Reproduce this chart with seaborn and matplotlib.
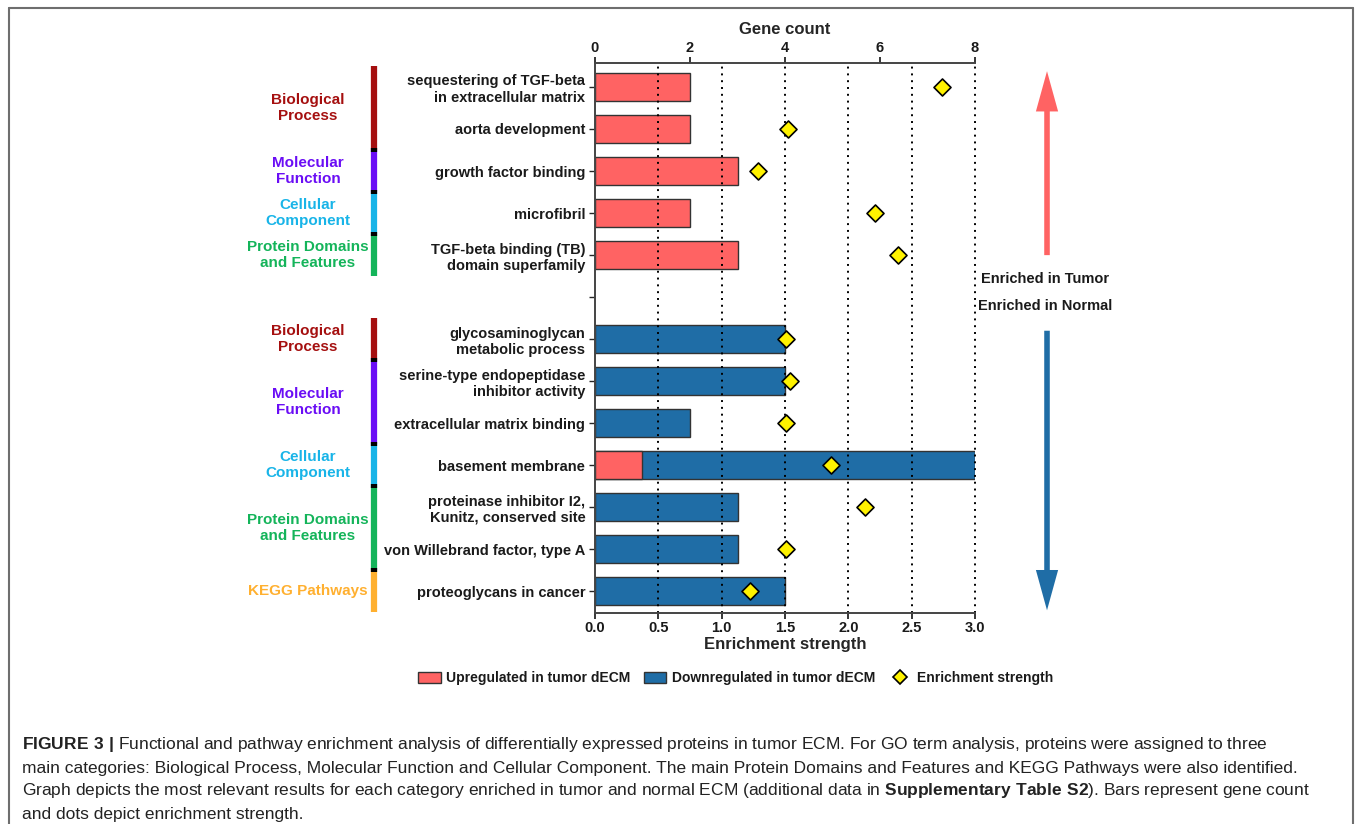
import numpy as np
import pandas as pd
import matplotlib
matplotlib.use("Agg")
import matplotlib.pyplot as plt
import seaborn as sns
from matplotlib.patches import Patch, FancyArrowPatch
from matplotlib.lines import Line2D
import matplotlib.transforms as mtransforms

# data
terms = [
    "sequestering of TGF-beta\nin extracellular matrix",
    "aorta development",
    "growth factor binding",
    "microfibril",
    "TGF-beta binding (TB)\ndomain superfamily",
    "",
    "glycosaminoglycan\nmetabolic process",
    "serine-type endopeptidase\ninhibitor activity",
    "extracellular matrix binding",
    "basement membrane",
    "proteinase inhibitor I2,\nKunitz, conserved site",
    "von Willebrand factor, type A",
    "proteoglycans in cancer",
]
up_genes = [2, 2, 3, 2, 3, 0, 0, 0, 0, 1, 0, 0, 0]
down_genes = [0, 0, 0, 0, 0, 0, 4, 4, 2, 8, 3, 3, 4]
strength = [2.74, 1.52, 1.29, 2.21, 2.39, np.nan, 1.51, 1.54, 1.51, 1.86, 2.13, 1.51, 1.22]

# category groups: (label, colour, first row, last row)
groups = [
    ("Biological\nProcess", "#A50F0F", 0, 1),
    ("Molecular\nFunction", "#6A0DF5", 2, 2),
    ("Cellular\nComponent", "#18B4E8", 3, 3),
    ("Protein Domains\nand Features", "#14B45A", 4, 4),
    ("Biological\nProcess", "#A50F0F", 6, 6),
    ("Molecular\nFunction", "#6A0DF5", 7, 8),
    ("Cellular\nComponent", "#18B4E8", 9, 9),
    ("Protein Domains\nand Features", "#14B45A", 10, 11),
    ("KEGG Pathways", "#FFB030", 12, 12),
]

RED = "#FF6363"
BLUE = "#1F6DA6"

sns.set_style("ticks")
plt.rcParams["font.family"] = ["Liberation Sans", "DejaVu Sans"]
plt.rcParams["mathtext.fontset"] = "custom"
plt.rcParams["mathtext.bf"] = "Liberation Sans:bold"
plt.rcParams["mathtext.rm"] = "Liberation Sans"

up = pd.DataFrame({"term": terms, "genes": up_genes})
up = up[up.genes > 0]
down = pd.DataFrame({"term": terms, "genes": down_genes})
down = down[down.genes > 0]

fig = plt.figure(figsize=(13.55, 8.24), dpi=100)
ax = fig.add_axes([0.4391, 0.2561, 0.2805, 0.6674])

sns.barplot(data=down, x="genes", y="term", order=terms, orient="h", color=BLUE,
            saturation=1, width=0.68, edgecolor="#333333", linewidth=1.0, ax=ax)
sns.barplot(data=up, x="genes", y="term", order=terms, orient="h", color=RED,
            saturation=1, width=0.68, edgecolor="#333333", linewidth=1.0, ax=ax)

# enrichment strength on a twin axis (bottom)
ax2 = ax.twiny()
ypos = np.arange(len(terms))
sns.scatterplot(x=strength, y=ypos, ax=ax2, marker="D", s=75, color="#FFF200",
                edgecolor="black", linewidth=1.2, zorder=5, legend=False)

# gene count axis on top
ax.set_xlim(0, 8)
ax.set_ylim(12.52, -0.57)
ax.xaxis.set_ticks_position("top")
ax.xaxis.set_label_position("top")
ax.set_xticks([0, 2, 4, 6, 8])
ax.set_xlabel("Gene count", fontsize=12, fontweight="bold", labelpad=5)
ax.set_ylabel("")
ax.tick_params(axis="x", labelsize=10.5, width=1.3, length=4, pad=2,
               top=True, labeltop=True, bottom=False, labelbottom=False)
ax.tick_params(axis="y", labelsize=10.5, width=1.0, length=4, pad=3)
for lab in ax.get_xticklabels() + ax.get_yticklabels():
    lab.set_fontweight("bold")
    lab.set_color("#1a1a1a")
for s in ["right", "bottom"]:
    ax.spines[s].set_visible(False)
for s in ["left", "top"]:
    ax.spines[s].set_linewidth(1.4)
    ax.spines[s].set_color("#444444")

ax2.set_xlim(0, 3)
ax2.set_ylim(12.52, -0.57)
ax2.xaxis.set_label_position("bottom")
ax2.set_xticks(np.arange(0, 3.01, 0.5))
ax2.set_xticklabels([f"{v:.1f}" for v in np.arange(0, 3.01, 0.5)])
ax2.set_xlabel("Enrichment strength", fontsize=12, fontweight="bold", labelpad=1)
ax2.tick_params(axis="x", labelsize=10.5, width=1.3, length=4, pad=2,
                bottom=True, labelbottom=True, top=False, labeltop=False)
for lab in ax2.get_xticklabels():
    lab.set_fontweight("bold")
    lab.set_color("#1a1a1a")
ax2.grid(axis="x", color="black", linestyle=(0, (1, 2.5)), linewidth=1.4)
for gl in ax2.xaxis.get_gridlines():
    gl.set_clip_on(False)
ax2.xaxis.get_gridlines()[0].set_visible(False)
for s in ["right", "top", "left"]:
    ax2.spines[s].set_visible(False)
ax2.spines["bottom"].set_linewidth(1.4)
ax2.spines["bottom"].set_color("#444444")

# coloured category bars on the left, thin black dividers between them
trans = mtransforms.blended_transform_factory(ax.transAxes, ax.transData)
BX = -0.5816
for label, col, r0, r1 in groups:
    y0 = r0 - 0.5
    y1 = r1 + 0.5
    ax.plot([BX, BX], [y0, y1], transform=trans, color=col,
            lw=4.5, solid_capstyle="butt", clip_on=False)
    ax.text(-0.755, (y0 + y1) / 2, label, transform=trans, ha="center", va="center",
            color=col, fontsize=11, fontweight="bold", linespacing=1.25)
for a, b in zip(groups[:-1], groups[1:]):
    if b[2] == a[3] + 1:
        yb = a[3] + 0.5
        ax.plot([BX, BX], [yb - 0.04, yb + 0.04], transform=trans, color="black",
                lw=4.5, solid_capstyle="butt", clip_on=False)

# direction arrows
style = "simple,tail_width=0.2,head_width=0.8,head_length=1.45"
fig.add_artist(FancyArrowPatch((0.7727, 0.687), (0.7727, 0.917), transform=fig.transFigure,
                               arrowstyle=style, mutation_scale=20, color=RED, lw=0))
fig.add_artist(FancyArrowPatch((0.7727, 0.602), (0.7727, 0.256), transform=fig.transFigure,
                               arrowstyle=style, mutation_scale=20, color=BLUE, lw=0))
fig.text(0.771, 0.661, "Enriched in Tumor", ha="center", va="center", fontsize=10.5,
         fontweight="bold", color="#1a1a1a")
fig.text(0.771, 0.629, "Enriched in Normal", ha="center", va="center", fontsize=10.5,
         fontweight="bold", color="#1a1a1a")

# legend
handles = [
    Patch(facecolor=RED, edgecolor="#333333", label="Upregulated in tumor dECM"),
    Patch(facecolor=BLUE, edgecolor="#333333", label="Downregulated in tumor dECM"),
    Line2D([], [], marker="D", linestyle="none", markersize=7, markerfacecolor="#FFF200",
           markeredgecolor="black", markeredgewidth=1.2, label="Enrichment strength"),
]
leg = fig.legend(handles=handles, loc="center", bbox_to_anchor=(0.543, 0.177), ncol=3,
                 frameon=False, fontsize=10, handlelength=1.6, handleheight=0.8,
                 handletextpad=0.4, columnspacing=1.0)
for t in leg.get_texts():
    t.set_fontweight("bold")
    t.set_color("#1a1a1a")

# frame round the figure panel
for xs, ys in [([0.0066, 0.0066], [0.0, 0.990]), ([0.0066, 0.9985], [0.990, 0.990]),
               ([0.9985, 0.9985], [0.990, 0.0])]:
    fig.add_artist(Line2D(xs, ys, transform=fig.transFigure, color="#6e6e6e", lw=1.5))

# caption
caption = [
    r"$\bf{FIGURE\ 3\ |}$ Functional and pathway enrichment analysis of differentially expressed proteins in tumor ECM. For GO term analysis, proteins were assigned to three",
    "main categories: Biological Process, Molecular Function and Cellular Component. The main Protein Domains and Features and KEGG Pathways were also identified.",
    r"Graph depicts the most relevant results for each category enriched in tumor and normal ECM (additional data in $\bf{Supplementary\ Table\ S2}$). Bars represent gene count",
    "and dots depict enrichment strength.",
]
for i, line in enumerate(caption):
    fig.text(0.0162, 1 - (745 + 23 * i) / 824, line, ha="left", va="center",
             fontsize=12.5, color="#222222")

fig.savefig("out.png", dpi=100)
